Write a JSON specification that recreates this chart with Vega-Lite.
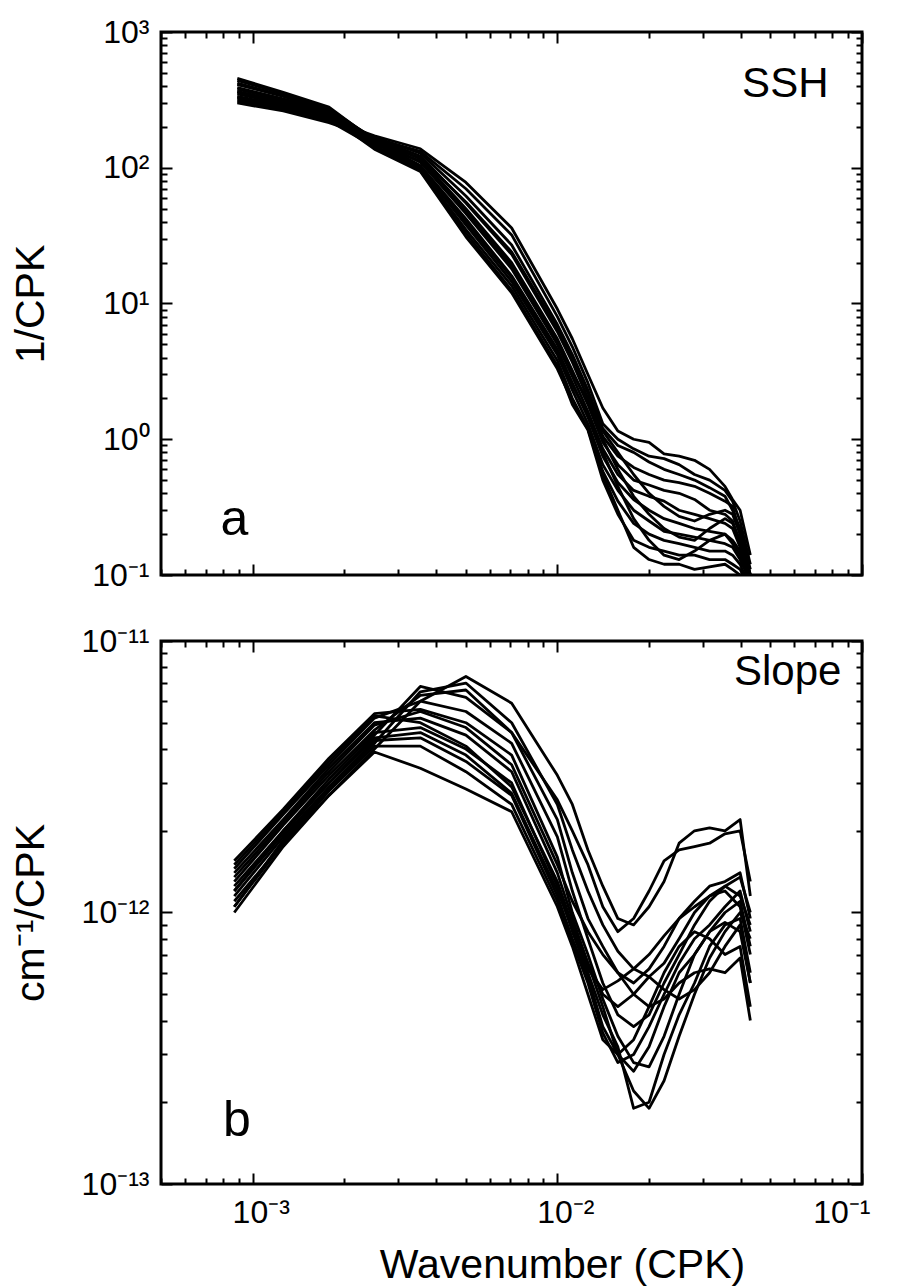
{
  "$schema": "https://vega.github.io/schema/vega-lite/v6.json",
  "padding": {"left": 8, "top": 14, "right": 10, "bottom": 0},
  "spacing": 30,
  "config": {
    "font": "Liberation Sans",
    "view": {"stroke": "black", "strokeWidth": 3},
    "axis": {"domain": false, "grid": false, "tickColor": "black", "tickWidth": 2, "labelColor": "black", "titleColor": "black", "labelFontSize": 32, "titleFontSize": 41, "titleFontWeight": "normal", "labelFont": "Liberation Sans", "titleFont": "Liberation Sans"}
  },
  "datasets": {
    "ssh": [
      {"c":"T1","k":0.00089,"s":320},{"c":"T1","k":0.00126,"s":275},{"c":"T1","k":0.00178,"s":225},{"c":"T1","k":0.00251,"s":172},{"c":"T1","k":0.00355,"s":138},{"c":"T1","k":0.00501,"s":78},{"c":"T1","k":0.00708,"s":36},{"c":"T1","k":0.01,"s":9.1},{"c":"T1","k":0.0112,"s":5.5},{"c":"T1","k":0.0126,"s":3.0},{"c":"T1","k":0.0141,"s":1.7},{"c":"T1","k":0.0158,"s":1.15},{"c":"T1","k":0.0178,"s":1.0},{"c":"T1","k":0.02,"s":0.95},{"c":"T1","k":0.0224,"s":0.78},{"c":"T1","k":0.0251,"s":0.75},{"c":"T1","k":0.0282,"s":0.7},{"c":"T1","k":0.0316,"s":0.6},{"c":"T1","k":0.0355,"s":0.45},{"c":"T1","k":0.0376,"s":0.36},{"c":"T1","k":0.0398,"s":0.3},{"c":"T1","k":0.043,"s":0.14},
      {"c":"T2","k":0.00089,"s":300},{"c":"T2","k":0.00126,"s":262},{"c":"T2","k":0.00178,"s":215},{"c":"T2","k":0.00251,"s":165},{"c":"T2","k":0.00355,"s":132},{"c":"T2","k":0.00501,"s":70},{"c":"T2","k":0.00708,"s":32},{"c":"T2","k":0.01,"s":8.0},{"c":"T2","k":0.0112,"s":4.8},{"c":"T2","k":0.0126,"s":2.6},{"c":"T2","k":0.0141,"s":1.3},{"c":"T2","k":0.0158,"s":1.0},{"c":"T2","k":0.0178,"s":0.85},{"c":"T2","k":0.02,"s":0.75},{"c":"T2","k":0.0224,"s":0.72},{"c":"T2","k":0.0251,"s":0.65},{"c":"T2","k":0.0282,"s":0.55},{"c":"T2","k":0.0316,"s":0.5},{"c":"T2","k":0.0355,"s":0.42},{"c":"T2","k":0.0376,"s":0.35},{"c":"T2","k":0.0398,"s":0.25},{"c":"T2","k":0.043,"s":0.12},
      {"c":"T3","k":0.00089,"s":350},{"c":"T3","k":0.00126,"s":295},{"c":"T3","k":0.00178,"s":235},{"c":"T3","k":0.00251,"s":168},{"c":"T3","k":0.00355,"s":128},{"c":"T3","k":0.00501,"s":62},{"c":"T3","k":0.00708,"s":27},{"c":"T3","k":0.01,"s":7.0},{"c":"T3","k":0.0112,"s":4.2},{"c":"T3","k":0.0126,"s":2.3},{"c":"T3","k":0.0141,"s":1.2},{"c":"T3","k":0.0158,"s":0.9},{"c":"T3","k":0.0178,"s":0.8},{"c":"T3","k":0.02,"s":0.68},{"c":"T3","k":0.0224,"s":0.6},{"c":"T3","k":0.0251,"s":0.55},{"c":"T3","k":0.0282,"s":0.5},{"c":"T3","k":0.0316,"s":0.44},{"c":"T3","k":0.0355,"s":0.38},{"c":"T3","k":0.0376,"s":0.3},{"c":"T3","k":0.0398,"s":0.22},{"c":"T3","k":0.043,"s":0.11},
      {"c":"T4","k":0.00089,"s":380},{"c":"T4","k":0.00126,"s":315},{"c":"T4","k":0.00178,"s":248},{"c":"T4","k":0.00251,"s":165},{"c":"T4","k":0.00355,"s":122},{"c":"T4","k":0.00501,"s":55},{"c":"T4","k":0.00708,"s":23},{"c":"T4","k":0.01,"s":6.2},{"c":"T4","k":0.0112,"s":3.7},{"c":"T4","k":0.0126,"s":2.0},{"c":"T4","k":0.0141,"s":1.05},{"c":"T4","k":0.0158,"s":0.75},{"c":"T4","k":0.0178,"s":0.62},{"c":"T4","k":0.02,"s":0.55},{"c":"T4","k":0.0224,"s":0.5},{"c":"T4","k":0.0251,"s":0.48},{"c":"T4","k":0.0282,"s":0.45},{"c":"T4","k":0.0316,"s":0.4},{"c":"T4","k":0.0355,"s":0.35},{"c":"T4","k":0.0376,"s":0.32},{"c":"T4","k":0.0398,"s":0.2},{"c":"T4","k":0.043,"s":0.1},
      {"c":"T5","k":0.00089,"s":410},{"c":"T5","k":0.00126,"s":335},{"c":"T5","k":0.00178,"s":260},{"c":"T5","k":0.00251,"s":165},{"c":"T5","k":0.00355,"s":116},{"c":"T5","k":0.00501,"s":50},{"c":"T5","k":0.00708,"s":20},{"c":"T5","k":0.01,"s":5.5},{"c":"T5","k":0.0112,"s":3.2},{"c":"T5","k":0.0126,"s":1.8},{"c":"T5","k":0.0141,"s":0.95},{"c":"T5","k":0.0158,"s":0.65},{"c":"T5","k":0.0178,"s":0.5},{"c":"T5","k":0.02,"s":0.46},{"c":"T5","k":0.0224,"s":0.42},{"c":"T5","k":0.0251,"s":0.4},{"c":"T5","k":0.0282,"s":0.36},{"c":"T5","k":0.0316,"s":0.3},{"c":"T5","k":0.0355,"s":0.28},{"c":"T5","k":0.0376,"s":0.25},{"c":"T5","k":0.0398,"s":0.17},{"c":"T5","k":0.043,"s":0.09},
      {"c":"T6","k":0.00089,"s":440},{"c":"T6","k":0.00126,"s":352},{"c":"T6","k":0.00178,"s":272},{"c":"T6","k":0.00251,"s":162},{"c":"T6","k":0.00355,"s":110},{"c":"T6","k":0.00501,"s":46},{"c":"T6","k":0.00708,"s":18},{"c":"T6","k":0.01,"s":5.0},{"c":"T6","k":0.0112,"s":2.9},{"c":"T6","k":0.0126,"s":1.6},{"c":"T6","k":0.0141,"s":0.85},{"c":"T6","k":0.0158,"s":0.55},{"c":"T6","k":0.0178,"s":0.42},{"c":"T6","k":0.02,"s":0.38},{"c":"T6","k":0.0224,"s":0.35},{"c":"T6","k":0.0251,"s":0.3},{"c":"T6","k":0.0282,"s":0.28},{"c":"T6","k":0.0316,"s":0.26},{"c":"T6","k":0.0355,"s":0.24},{"c":"T6","k":0.0376,"s":0.22},{"c":"T6","k":0.0398,"s":0.16},{"c":"T6","k":0.043,"s":0.09},
      {"c":"T7","k":0.00089,"s":455},{"c":"T7","k":0.00126,"s":360},{"c":"T7","k":0.00178,"s":280},{"c":"T7","k":0.00251,"s":158},{"c":"T7","k":0.00355,"s":104},{"c":"T7","k":0.00501,"s":42},{"c":"T7","k":0.00708,"s":16},{"c":"T7","k":0.01,"s":4.6},{"c":"T7","k":0.0112,"s":2.6},{"c":"T7","k":0.0126,"s":1.45},{"c":"T7","k":0.0141,"s":0.75},{"c":"T7","k":0.0158,"s":0.48},{"c":"T7","k":0.0178,"s":0.36},{"c":"T7","k":0.02,"s":0.3},{"c":"T7","k":0.0224,"s":0.26},{"c":"T7","k":0.0251,"s":0.24},{"c":"T7","k":0.0282,"s":0.22},{"c":"T7","k":0.0316,"s":0.21},{"c":"T7","k":0.0355,"s":0.2},{"c":"T7","k":0.0376,"s":0.18},{"c":"T7","k":0.0398,"s":0.15},{"c":"T7","k":0.043,"s":0.08},
      {"c":"T8","k":0.00089,"s":420},{"c":"T8","k":0.00126,"s":340},{"c":"T8","k":0.00178,"s":268},{"c":"T8","k":0.00251,"s":152},{"c":"T8","k":0.00355,"s":100},{"c":"T8","k":0.00501,"s":38},{"c":"T8","k":0.00708,"s":14.5},{"c":"T8","k":0.01,"s":4.2},{"c":"T8","k":0.0112,"s":2.3},{"c":"T8","k":0.0126,"s":1.3},{"c":"T8","k":0.0141,"s":0.65},{"c":"T8","k":0.0158,"s":0.42},{"c":"T8","k":0.0178,"s":0.3},{"c":"T8","k":0.02,"s":0.25},{"c":"T8","k":0.0224,"s":0.21},{"c":"T8","k":0.0251,"s":0.2},{"c":"T8","k":0.0282,"s":0.19},{"c":"T8","k":0.0316,"s":0.18},{"c":"T8","k":0.0355,"s":0.17},{"c":"T8","k":0.0376,"s":0.16},{"c":"T8","k":0.0398,"s":0.13},{"c":"T8","k":0.043,"s":0.09},
      {"c":"T9","k":0.00089,"s":390},{"c":"T9","k":0.00126,"s":322},{"c":"T9","k":0.00178,"s":258},{"c":"T9","k":0.00251,"s":146},{"c":"T9","k":0.00355,"s":97},{"c":"T9","k":0.00501,"s":35},{"c":"T9","k":0.00708,"s":13.5},{"c":"T9","k":0.01,"s":3.8},{"c":"T9","k":0.0112,"s":2.0},{"c":"T9","k":0.0126,"s":1.2},{"c":"T9","k":0.0141,"s":0.58},{"c":"T9","k":0.0158,"s":0.35},{"c":"T9","k":0.0178,"s":0.24},{"c":"T9","k":0.02,"s":0.2},{"c":"T9","k":0.0224,"s":0.18},{"c":"T9","k":0.0251,"s":0.17},{"c":"T9","k":0.0282,"s":0.16},{"c":"T9","k":0.0316,"s":0.15},{"c":"T9","k":0.0355,"s":0.15},{"c":"T9","k":0.0376,"s":0.14},{"c":"T9","k":0.0398,"s":0.12},{"c":"T9","k":0.043,"s":0.08},
      {"c":"T10","k":0.00089,"s":360},{"c":"T10","k":0.00126,"s":305},{"c":"T10","k":0.00178,"s":248},{"c":"T10","k":0.00251,"s":140},{"c":"T10","k":0.00355,"s":95},{"c":"T10","k":0.00501,"s":33},{"c":"T10","k":0.00708,"s":12.5},{"c":"T10","k":0.01,"s":3.5},{"c":"T10","k":0.0112,"s":1.8},{"c":"T10","k":0.0126,"s":1.17},{"c":"T10","k":0.0141,"s":0.5},{"c":"T10","k":0.0158,"s":0.28},{"c":"T10","k":0.0178,"s":0.18},{"c":"T10","k":0.02,"s":0.16},{"c":"T10","k":0.0224,"s":0.15},{"c":"T10","k":0.0251,"s":0.14},{"c":"T10","k":0.0282,"s":0.14},{"c":"T10","k":0.0316,"s":0.13},{"c":"T10","k":0.0355,"s":0.13},{"c":"T10","k":0.0376,"s":0.12},{"c":"T10","k":0.0398,"s":0.11},{"c":"T10","k":0.043,"s":0.08},
      {"c":"T11","k":0.00089,"s":335},{"c":"T11","k":0.00126,"s":288},{"c":"T11","k":0.00178,"s":238},{"c":"T11","k":0.00251,"s":137},{"c":"T11","k":0.00355,"s":94},{"c":"T11","k":0.00501,"s":31},{"c":"T11","k":0.00708,"s":12},{"c":"T11","k":0.01,"s":3.3},{"c":"T11","k":0.0112,"s":1.9},{"c":"T11","k":0.0126,"s":1.19},{"c":"T11","k":0.0141,"s":0.55},{"c":"T11","k":0.0158,"s":0.3},{"c":"T11","k":0.0178,"s":0.16},{"c":"T11","k":0.02,"s":0.13},{"c":"T11","k":0.0224,"s":0.12},{"c":"T11","k":0.0251,"s":0.12},{"c":"T11","k":0.0282,"s":0.11},{"c":"T11","k":0.0316,"s":0.115},{"c":"T11","k":0.0355,"s":0.12},{"c":"T11","k":0.0376,"s":0.11},{"c":"T11","k":0.0398,"s":0.1},{"c":"T11","k":0.043,"s":0.08},
      {"c":"T12","k":0.00089,"s":310},{"c":"T12","k":0.00126,"s":268},{"c":"T12","k":0.00178,"s":222},{"c":"T12","k":0.00251,"s":143},{"c":"T12","k":0.00355,"s":102},{"c":"T12","k":0.00501,"s":40},{"c":"T12","k":0.00708,"s":15.5},{"c":"T12","k":0.01,"s":4.4},{"c":"T12","k":0.0112,"s":2.5},{"c":"T12","k":0.0126,"s":1.5},{"c":"T12","k":0.0141,"s":0.8},{"c":"T12","k":0.0158,"s":0.45},{"c":"T12","k":0.0178,"s":0.26},{"c":"T12","k":0.02,"s":0.18},{"c":"T12","k":0.0224,"s":0.14},{"c":"T12","k":0.0251,"s":0.13},{"c":"T12","k":0.0282,"s":0.15},{"c":"T12","k":0.0316,"s":0.18},{"c":"T12","k":0.0355,"s":0.2},{"c":"T12","k":0.0376,"s":0.17},{"c":"T12","k":0.0398,"s":0.14},{"c":"T12","k":0.043,"s":0.09},
      {"c":"T13","k":0.00089,"s":330},{"c":"T13","k":0.00126,"s":280},{"c":"T13","k":0.00178,"s":228},{"c":"T13","k":0.00251,"s":150},{"c":"T13","k":0.00355,"s":112},{"c":"T13","k":0.00501,"s":48},{"c":"T13","k":0.00708,"s":19},{"c":"T13","k":0.01,"s":5.2},{"c":"T13","k":0.0112,"s":3.1},{"c":"T13","k":0.0126,"s":1.9},{"c":"T13","k":0.0141,"s":1.0},{"c":"T13","k":0.0158,"s":0.6},{"c":"T13","k":0.0178,"s":0.38},{"c":"T13","k":0.02,"s":0.28},{"c":"T13","k":0.0224,"s":0.22},{"c":"T13","k":0.0251,"s":0.19},{"c":"T13","k":0.0282,"s":0.18},{"c":"T13","k":0.0316,"s":0.22},{"c":"T13","k":0.0355,"s":0.26},{"c":"T13","k":0.0376,"s":0.24},{"c":"T13","k":0.0398,"s":0.18},{"c":"T13","k":0.043,"s":0.1},
      {"c":"T14","k":0.00089,"s":365},{"c":"T14","k":0.00126,"s":305},{"c":"T14","k":0.00178,"s":242},{"c":"T14","k":0.00251,"s":155},{"c":"T14","k":0.00355,"s":118},{"c":"T14","k":0.00501,"s":56},{"c":"T14","k":0.00708,"s":24},{"c":"T14","k":0.01,"s":6.6},{"c":"T14","k":0.0112,"s":4.0},{"c":"T14","k":0.0126,"s":2.2},{"c":"T14","k":0.0141,"s":1.15},{"c":"T14","k":0.0158,"s":0.8},{"c":"T14","k":0.0178,"s":0.55},{"c":"T14","k":0.02,"s":0.4},{"c":"T14","k":0.0224,"s":0.32},{"c":"T14","k":0.0251,"s":0.27},{"c":"T14","k":0.0282,"s":0.25},{"c":"T14","k":0.0316,"s":0.28},{"c":"T14","k":0.0355,"s":0.3},{"c":"T14","k":0.0376,"s":0.28},{"c":"T14","k":0.0398,"s":0.2},{"c":"T14","k":0.043,"s":0.1}
    ],
    "slope": [
      {"c":"B1","k":0.00087,"s":1.05e-12},{"c":"B1","k":0.00126,"s":1.8e-12},{"c":"B1","k":0.00178,"s":2.7e-12},{"c":"B1","k":0.00251,"s":4.0e-12},{"c":"B1","k":0.00355,"s":6.0e-12},{"c":"B1","k":0.00501,"s":7.4e-12},{"c":"B1","k":0.00708,"s":5.9e-12},{"c":"B1","k":0.01,"s":3.2e-12},{"c":"B1","k":0.0112,"s":2.5e-12},{"c":"B1","k":0.0126,"s":1.7e-12},{"c":"B1","k":0.0141,"s":1.25e-12},{"c":"B1","k":0.0158,"s":0.95e-12},{"c":"B1","k":0.0178,"s":0.9e-12},{"c":"B1","k":0.02,"s":1.05e-12},{"c":"B1","k":0.0224,"s":1.3e-12},{"c":"B1","k":0.0251,"s":1.8e-12},{"c":"B1","k":0.0282,"s":2.0e-12},{"c":"B1","k":0.0316,"s":2.05e-12},{"c":"B1","k":0.0355,"s":2.0e-12},{"c":"B1","k":0.0398,"s":2.2e-12},{"c":"B1","k":0.043,"s":1.15e-12},
      {"c":"B2","k":0.00087,"s":1.2e-12},{"c":"B2","k":0.00126,"s":2.0e-12},{"c":"B2","k":0.00178,"s":3.0e-12},{"c":"B2","k":0.00251,"s":4.5e-12},{"c":"B2","k":0.00355,"s":6.8e-12},{"c":"B2","k":0.00501,"s":6.2e-12},{"c":"B2","k":0.00708,"s":4.6e-12},{"c":"B2","k":0.01,"s":2.6e-12},{"c":"B2","k":0.0112,"s":2.0e-12},{"c":"B2","k":0.0126,"s":1.5e-12},{"c":"B2","k":0.0141,"s":1.05e-12},{"c":"B2","k":0.0158,"s":0.85e-12},{"c":"B2","k":0.0178,"s":0.95e-12},{"c":"B2","k":0.02,"s":1.2e-12},{"c":"B2","k":0.0224,"s":1.55e-12},{"c":"B2","k":0.0251,"s":1.7e-12},{"c":"B2","k":0.0282,"s":1.75e-12},{"c":"B2","k":0.0316,"s":1.8e-12},{"c":"B2","k":0.0355,"s":1.95e-12},{"c":"B2","k":0.0398,"s":2.0e-12},{"c":"B2","k":0.043,"s":1.3e-12},
      {"c":"B3","k":0.00087,"s":1.3e-12},{"c":"B3","k":0.00126,"s":2.1e-12},{"c":"B3","k":0.00178,"s":3.2e-12},{"c":"B3","k":0.00251,"s":4.7e-12},{"c":"B3","k":0.00355,"s":6.3e-12},{"c":"B3","k":0.00501,"s":6.6e-12},{"c":"B3","k":0.00708,"s":4.6e-12},{"c":"B3","k":0.01,"s":2.2e-12},{"c":"B3","k":0.0112,"s":1.4e-12},{"c":"B3","k":0.0126,"s":0.95e-12},{"c":"B3","k":0.0141,"s":0.75e-12},{"c":"B3","k":0.0158,"s":0.6e-12},{"c":"B3","k":0.0178,"s":0.55e-12},{"c":"B3","k":0.02,"s":0.62e-12},{"c":"B3","k":0.0224,"s":0.75e-12},{"c":"B3","k":0.0251,"s":0.95e-12},{"c":"B3","k":0.0282,"s":1.1e-12},{"c":"B3","k":0.0316,"s":1.25e-12},{"c":"B3","k":0.0355,"s":1.3e-12},{"c":"B3","k":0.0398,"s":1.4e-12},{"c":"B3","k":0.043,"s":0.95e-12},
      {"c":"B4","k":0.00087,"s":1.45e-12},{"c":"B4","k":0.00126,"s":2.3e-12},{"c":"B4","k":0.00178,"s":3.5e-12},{"c":"B4","k":0.00251,"s":5.2e-12},{"c":"B4","k":0.00355,"s":6.0e-12},{"c":"B4","k":0.00501,"s":5.5e-12},{"c":"B4","k":0.00708,"s":4.2e-12},{"c":"B4","k":0.01,"s":1.9e-12},{"c":"B4","k":0.0112,"s":1.2e-12},{"c":"B4","k":0.0126,"s":0.8e-12},{"c":"B4","k":0.0141,"s":0.55e-12},{"c":"B4","k":0.0158,"s":0.42e-12},{"c":"B4","k":0.0178,"s":0.38e-12},{"c":"B4","k":0.02,"s":0.42e-12},{"c":"B4","k":0.0224,"s":0.55e-12},{"c":"B4","k":0.0251,"s":0.7e-12},{"c":"B4","k":0.0282,"s":0.9e-12},{"c":"B4","k":0.0316,"s":1.1e-12},{"c":"B4","k":0.0355,"s":1.25e-12},{"c":"B4","k":0.0398,"s":1.15e-12},{"c":"B4","k":0.043,"s":0.9e-12},
      {"c":"B5","k":0.00087,"s":1.55e-12},{"c":"B5","k":0.00126,"s":2.4e-12},{"c":"B5","k":0.00178,"s":3.7e-12},{"c":"B5","k":0.00251,"s":5.4e-12},{"c":"B5","k":0.00355,"s":5.6e-12},{"c":"B5","k":0.00501,"s":5.0e-12},{"c":"B5","k":0.00708,"s":3.8e-12},{"c":"B5","k":0.01,"s":1.6e-12},{"c":"B5","k":0.0112,"s":1.0e-12},{"c":"B5","k":0.0126,"s":0.7e-12},{"c":"B5","k":0.0141,"s":0.48e-12},{"c":"B5","k":0.0158,"s":0.35e-12},{"c":"B5","k":0.0178,"s":0.28e-12},{"c":"B5","k":0.02,"s":0.27e-12},{"c":"B5","k":0.0224,"s":0.35e-12},{"c":"B5","k":0.0251,"s":0.5e-12},{"c":"B5","k":0.0282,"s":0.7e-12},{"c":"B5","k":0.0316,"s":0.85e-12},{"c":"B5","k":0.0355,"s":1.0e-12},{"c":"B5","k":0.0398,"s":1.1e-12},{"c":"B5","k":0.043,"s":0.75e-12},
      {"c":"B6","k":0.00087,"s":1.4e-12},{"c":"B6","k":0.00126,"s":2.2e-12},{"c":"B6","k":0.00178,"s":3.4e-12},{"c":"B6","k":0.00251,"s":5.0e-12},{"c":"B6","k":0.00355,"s":5.2e-12},{"c":"B6","k":0.00501,"s":4.5e-12},{"c":"B6","k":0.00708,"s":3.3e-12},{"c":"B6","k":0.01,"s":1.4e-12},{"c":"B6","k":0.0112,"s":0.95e-12},{"c":"B6","k":0.0126,"s":0.65e-12},{"c":"B6","k":0.0141,"s":0.45e-12},{"c":"B6","k":0.0158,"s":0.3e-12},{"c":"B6","k":0.0178,"s":0.22e-12},{"c":"B6","k":0.02,"s":0.19e-12},{"c":"B6","k":0.0224,"s":0.24e-12},{"c":"B6","k":0.0251,"s":0.35e-12},{"c":"B6","k":0.0282,"s":0.5e-12},{"c":"B6","k":0.0316,"s":0.68e-12},{"c":"B6","k":0.0355,"s":0.85e-12},{"c":"B6","k":0.0398,"s":1.0e-12},{"c":"B6","k":0.043,"s":0.8e-12},
      {"c":"B7","k":0.00087,"s":1.25e-12},{"c":"B7","k":0.00126,"s":2.0e-12},{"c":"B7","k":0.00178,"s":3.1e-12},{"c":"B7","k":0.00251,"s":4.6e-12},{"c":"B7","k":0.00355,"s":4.8e-12},{"c":"B7","k":0.00501,"s":4.0e-12},{"c":"B7","k":0.00708,"s":3.0e-12},{"c":"B7","k":0.01,"s":1.25e-12},{"c":"B7","k":0.0112,"s":0.85e-12},{"c":"B7","k":0.0126,"s":0.6e-12},{"c":"B7","k":0.0141,"s":0.42e-12},{"c":"B7","k":0.0158,"s":0.32e-12},{"c":"B7","k":0.0178,"s":0.19e-12},{"c":"B7","k":0.02,"s":0.2e-12},{"c":"B7","k":0.0224,"s":0.3e-12},{"c":"B7","k":0.0251,"s":0.42e-12},{"c":"B7","k":0.0282,"s":0.55e-12},{"c":"B7","k":0.0316,"s":0.75e-12},{"c":"B7","k":0.0355,"s":0.9e-12},{"c":"B7","k":0.0398,"s":0.95e-12},{"c":"B7","k":0.043,"s":0.6e-12},
      {"c":"B8","k":0.00087,"s":1.15e-12},{"c":"B8","k":0.00126,"s":1.9e-12},{"c":"B8","k":0.00178,"s":2.9e-12},{"c":"B8","k":0.00251,"s":4.3e-12},{"c":"B8","k":0.00355,"s":4.4e-12},{"c":"B8","k":0.00501,"s":3.6e-12},{"c":"B8","k":0.00708,"s":2.7e-12},{"c":"B8","k":0.01,"s":1.15e-12},{"c":"B8","k":0.0112,"s":0.8e-12},{"c":"B8","k":0.0126,"s":0.58e-12},{"c":"B8","k":0.0141,"s":0.38e-12},{"c":"B8","k":0.0158,"s":0.3e-12},{"c":"B8","k":0.0178,"s":0.26e-12},{"c":"B8","k":0.02,"s":0.32e-12},{"c":"B8","k":0.0224,"s":0.45e-12},{"c":"B8","k":0.0251,"s":0.6e-12},{"c":"B8","k":0.0282,"s":0.7e-12},{"c":"B8","k":0.0316,"s":0.85e-12},{"c":"B8","k":0.0355,"s":0.92e-12},{"c":"B8","k":0.0398,"s":0.85e-12},{"c":"B8","k":0.043,"s":0.55e-12},
      {"c":"B9","k":0.00087,"s":1.1e-12},{"c":"B9","k":0.00126,"s":1.8e-12},{"c":"B9","k":0.00178,"s":2.8e-12},{"c":"B9","k":0.00251,"s":4.1e-12},{"c":"B9","k":0.00355,"s":4.1e-12},{"c":"B9","k":0.00501,"s":3.3e-12},{"c":"B9","k":0.00708,"s":2.5e-12},{"c":"B9","k":0.01,"s":1.1e-12},{"c":"B9","k":0.0112,"s":0.78e-12},{"c":"B9","k":0.0126,"s":0.55e-12},{"c":"B9","k":0.0141,"s":0.36e-12},{"c":"B9","k":0.0158,"s":0.28e-12},{"c":"B9","k":0.0178,"s":0.3e-12},{"c":"B9","k":0.02,"s":0.38e-12},{"c":"B9","k":0.0224,"s":0.5e-12},{"c":"B9","k":0.0251,"s":0.65e-12},{"c":"B9","k":0.0282,"s":0.8e-12},{"c":"B9","k":0.0316,"s":0.9e-12},{"c":"B9","k":0.0355,"s":1.05e-12},{"c":"B9","k":0.0398,"s":1.2e-12},{"c":"B9","k":0.043,"s":0.85e-12},
      {"c":"B10","k":0.00087,"s":1.0e-12},{"c":"B10","k":0.00126,"s":1.75e-12},{"c":"B10","k":0.00178,"s":2.7e-12},{"c":"B10","k":0.00251,"s":3.9e-12},{"c":"B10","k":0.00355,"s":3.4e-12},{"c":"B10","k":0.00501,"s":2.85e-12},{"c":"B10","k":0.00708,"s":2.35e-12},{"c":"B10","k":0.01,"s":1.05e-12},{"c":"B10","k":0.0112,"s":0.75e-12},{"c":"B10","k":0.0126,"s":0.5e-12},{"c":"B10","k":0.0141,"s":0.34e-12},{"c":"B10","k":0.0158,"s":0.3e-12},{"c":"B10","k":0.0178,"s":0.34e-12},{"c":"B10","k":0.02,"s":0.45e-12},{"c":"B10","k":0.0224,"s":0.6e-12},{"c":"B10","k":0.0251,"s":0.75e-12},{"c":"B10","k":0.0282,"s":0.85e-12},{"c":"B10","k":0.0316,"s":0.8e-12},{"c":"B10","k":0.0355,"s":0.7e-12},{"c":"B10","k":0.0398,"s":0.75e-12},{"c":"B10","k":0.043,"s":0.45e-12},
      {"c":"B11","k":0.00087,"s":1.5e-12},{"c":"B11","k":0.00126,"s":2.35e-12},{"c":"B11","k":0.00178,"s":3.6e-12},{"c":"B11","k":0.00251,"s":5.3e-12},{"c":"B11","k":0.00355,"s":5.0e-12},{"c":"B11","k":0.00501,"s":4.1e-12},{"c":"B11","k":0.00708,"s":2.9e-12},{"c":"B11","k":0.01,"s":1.3e-12},{"c":"B11","k":0.0112,"s":0.9e-12},{"c":"B11","k":0.0126,"s":0.65e-12},{"c":"B11","k":0.0141,"s":0.5e-12},{"c":"B11","k":0.0158,"s":0.45e-12},{"c":"B11","k":0.0178,"s":0.5e-12},{"c":"B11","k":0.02,"s":0.58e-12},{"c":"B11","k":0.0224,"s":0.65e-12},{"c":"B11","k":0.0251,"s":0.8e-12},{"c":"B11","k":0.0282,"s":1.0e-12},{"c":"B11","k":0.0316,"s":1.15e-12},{"c":"B11","k":0.0355,"s":1.2e-12},{"c":"B11","k":0.0398,"s":1.05e-12},{"c":"B11","k":0.043,"s":0.7e-12},
      {"c":"B12","k":0.00087,"s":1.35e-12},{"c":"B12","k":0.00126,"s":2.15e-12},{"c":"B12","k":0.00178,"s":3.3e-12},{"c":"B12","k":0.00251,"s":4.9e-12},{"c":"B12","k":0.00355,"s":5.5e-12},{"c":"B12","k":0.00501,"s":4.8e-12},{"c":"B12","k":0.00708,"s":3.5e-12},{"c":"B12","k":0.01,"s":1.5e-12},{"c":"B12","k":0.0112,"s":1.1e-12},{"c":"B12","k":0.0126,"s":0.85e-12},{"c":"B12","k":0.0141,"s":0.7e-12},{"c":"B12","k":0.0158,"s":0.6e-12},{"c":"B12","k":0.0178,"s":0.5e-12},{"c":"B12","k":0.02,"s":0.45e-12},{"c":"B12","k":0.0224,"s":0.48e-12},{"c":"B12","k":0.0251,"s":0.55e-12},{"c":"B12","k":0.0282,"s":0.6e-12},{"c":"B12","k":0.0316,"s":0.62e-12},{"c":"B12","k":0.0355,"s":0.6e-12},{"c":"B12","k":0.0398,"s":0.68e-12},{"c":"B12","k":0.043,"s":0.4e-12},
      {"c":"B13","k":0.00087,"s":1.2e-12},{"c":"B13","k":0.00126,"s":1.95e-12},{"c":"B13","k":0.00178,"s":3.0e-12},{"c":"B13","k":0.00251,"s":4.4e-12},{"c":"B13","k":0.00355,"s":4.6e-12},{"c":"B13","k":0.00501,"s":3.8e-12},{"c":"B13","k":0.00708,"s":2.75e-12},{"c":"B13","k":0.01,"s":1.2e-12},{"c":"B13","k":0.0112,"s":0.88e-12},{"c":"B13","k":0.0126,"s":0.62e-12},{"c":"B13","k":0.0141,"s":0.52e-12},{"c":"B13","k":0.0158,"s":0.56e-12},{"c":"B13","k":0.0178,"s":0.62e-12},{"c":"B13","k":0.02,"s":0.7e-12},{"c":"B13","k":0.0224,"s":0.82e-12},{"c":"B13","k":0.0251,"s":0.95e-12},{"c":"B13","k":0.0282,"s":1.05e-12},{"c":"B13","k":0.0316,"s":1.15e-12},{"c":"B13","k":0.0355,"s":1.25e-12},{"c":"B13","k":0.0398,"s":1.35e-12},{"c":"B13","k":0.043,"s":1.0e-12},
      {"c":"B14","k":0.00087,"s":1.05e-12},{"c":"B14","k":0.00126,"s":1.85e-12},{"c":"B14","k":0.00178,"s":2.85e-12},{"c":"B14","k":0.00251,"s":4.2e-12},{"c":"B14","k":0.00355,"s":6.5e-12},{"c":"B14","k":0.00501,"s":7.0e-12},{"c":"B14","k":0.00708,"s":5.0e-12},{"c":"B14","k":0.01,"s":2.5e-12},{"c":"B14","k":0.0112,"s":1.7e-12},{"c":"B14","k":0.0126,"s":1.2e-12},{"c":"B14","k":0.0141,"s":0.9e-12},{"c":"B14","k":0.0158,"s":0.72e-12},{"c":"B14","k":0.0178,"s":0.62e-12},{"c":"B14","k":0.02,"s":0.58e-12},{"c":"B14","k":0.0224,"s":0.52e-12},{"c":"B14","k":0.0251,"s":0.48e-12},{"c":"B14","k":0.0282,"s":0.52e-12},{"c":"B14","k":0.0316,"s":0.6e-12},{"c":"B14","k":0.0355,"s":0.75e-12},{"c":"B14","k":0.0398,"s":0.9e-12},{"c":"B14","k":0.043,"s":0.55e-12}
    ],
    "sshLabels": [
      {"t":"SSH","k":0.056,"s":332},
      {"t":"a","k":0.00087,"s":0.197}
    ],
    "slopeLabels": [
      {"t":"Slope","k":0.057,"s":6.9e-12},
      {"t":"b","k":0.000887,"s":1.5e-13}
    ]
  },
  "vconcat": [
    {
      "width": 701,
      "height": 543,
      "layer": [
        {
          "data": {"name": "ssh"},
          "mark": {"type": "line", "color": "black", "strokeWidth": 2.8, "strokeJoin": "round", "clip": true},
          "encoding": {
            "x": {"field": "k", "type": "quantitative", "scale": {"type": "log", "domain": [0.0005, 0.1], "nice": false},
              "axis": {"orient": "bottom", "labels": false, "title": null,
                "values": [0.0005,0.0006,0.0007,0.0008,0.0009,0.001,0.002,0.003,0.004,0.005,0.006,0.007,0.008,0.009,0.01,0.02,0.03,0.04,0.05,0.06,0.07,0.08,0.09,0.1],
                "tickSize": {"condition": {"test": "abs(log(datum.value)/LN10-round(log(datum.value)/LN10))<0.01", "value": -11}, "value": -6}}},
            "y": {"field": "s", "type": "quantitative", "scale": {"type": "log", "domain": [0.1, 1000], "nice": false},
              "axis": {"orient": "left", "title": "1/CPK", "titleX": -109, "titleBaseline": "bottom", "labelPadding": 23, "labelAlign": "right", "labelBaseline": "middle",
                "values": [0.1,0.2,0.3,0.4,0.5,0.6,0.7,0.8,0.9,1,2,3,4,5,6,7,8,9,10,20,30,40,50,60,70,80,90,100,200,300,400,500,600,700,800,900,1000],
                "labelExpr": "abs(log(datum.value)/LN10-round(log(datum.value)/LN10))<0.01 ? ['10⁻¹','10⁰','10¹','10²','10³'][round(log(datum.value)/LN10)+1] : ''",
                "tickSize": {"condition": {"test": "abs(log(datum.value)/LN10-round(log(datum.value)/LN10))<0.01", "value": -11}, "value": -6}}},
            "detail": {"field": "c"}
          }
        },
        {
          "data": {"name": "sshLabels"},
          "mark": {"type": "text", "color": "black", "align": "center", "baseline": "alphabetic", "font": "Liberation Sans"},
          "encoding": {
            "x": {"field": "k", "type": "quantitative", "scale": {"type": "log", "domain": [0.0005, 0.1], "nice": false},
              "axis": {"orient": "top", "labels": false, "title": null,
                "values": [0.0005,0.0006,0.0007,0.0008,0.0009,0.001,0.002,0.003,0.004,0.005,0.006,0.007,0.008,0.009,0.01,0.02,0.03,0.04,0.05,0.06,0.07,0.08,0.09,0.1],
                "tickSize": {"condition": {"test": "abs(log(datum.value)/LN10-round(log(datum.value)/LN10))<0.01", "value": -11}, "value": -6}}},
            "y": {"field": "s", "type": "quantitative", "scale": {"type": "log", "domain": [0.1, 1000], "nice": false},
              "axis": {"orient": "right", "labels": false, "title": null,
                "values": [0.1,0.2,0.3,0.4,0.5,0.6,0.7,0.8,0.9,1,2,3,4,5,6,7,8,9,10,20,30,40,50,60,70,80,90,100,200,300,400,500,600,700,800,900,1000],
                "tickSize": {"condition": {"test": "abs(log(datum.value)/LN10-round(log(datum.value)/LN10))<0.01", "value": -11}, "value": -6}}},
            "text": {"field": "t"},
            "size": {"condition": {"test": "datum.t === 'a'", "value": 50}, "value": 42}
          }
        }
      ],
      "resolve": {"axis": {"x": "independent", "y": "independent"}}
    },
    {
      "width": 701,
      "height": 543,
      "layer": [
        {
          "data": {"name": "slope"},
          "mark": {"type": "line", "color": "black", "strokeWidth": 2.8, "strokeJoin": "round", "clip": true},
          "encoding": {
            "x": {"field": "k", "type": "quantitative", "scale": {"type": "log", "domain": [0.0005, 0.1], "nice": false},
              "axis": {"orient": "bottom", "title": "Wavenumber (CPK)", "titleX": 401, "titleY": 61, "titleBaseline": "top", "labelPadding": 24, "labelOffset": 8,
                "values": [0.0005,0.0006,0.0007,0.0008,0.0009,0.001,0.002,0.003,0.004,0.005,0.006,0.007,0.008,0.009,0.01,0.02,0.03,0.04,0.05,0.06,0.07,0.08,0.09,0.1],
                "labelExpr": "abs(log(datum.value)/LN10-round(log(datum.value)/LN10))<0.01 ? ['10⁻³','10⁻²','10⁻¹'][round(log(datum.value)/LN10)+3] : ''",
                "tickSize": {"condition": {"test": "abs(log(datum.value)/LN10-round(log(datum.value)/LN10))<0.01", "value": -11}, "value": -6}}},
            "y": {"field": "s", "type": "quantitative", "scale": {"type": "log", "domain": [1e-13, 1e-11], "nice": false},
              "axis": {"orient": "left", "title": "cm⁻¹/CPK", "titleX": -109, "titleBaseline": "bottom", "labelPadding": 23, "labelAlign": "right", "labelBaseline": "middle",
                "values": [1e-13,2e-13,3e-13,4e-13,5e-13,6e-13,7e-13,8e-13,9e-13,1e-12,2e-12,3e-12,4e-12,5e-12,6e-12,7e-12,8e-12,9e-12,1e-11],
                "labelExpr": "abs(log(datum.value)/LN10-round(log(datum.value)/LN10))<0.01 ? ['10⁻¹³','10⁻¹²','10⁻¹¹'][round(log(datum.value)/LN10)+13] : ''",
                "tickSize": {"condition": {"test": "abs(log(datum.value)/LN10-round(log(datum.value)/LN10))<0.01", "value": -11}, "value": -6}}},
            "detail": {"field": "c"}
          }
        },
        {
          "data": {"name": "slopeLabels"},
          "mark": {"type": "text", "color": "black", "align": "center", "baseline": "alphabetic", "font": "Liberation Sans"},
          "encoding": {
            "x": {"field": "k", "type": "quantitative", "scale": {"type": "log", "domain": [0.0005, 0.1], "nice": false},
              "axis": {"orient": "top", "labels": false, "title": null,
                "values": [0.0005,0.0006,0.0007,0.0008,0.0009,0.001,0.002,0.003,0.004,0.005,0.006,0.007,0.008,0.009,0.01,0.02,0.03,0.04,0.05,0.06,0.07,0.08,0.09,0.1],
                "tickSize": {"condition": {"test": "abs(log(datum.value)/LN10-round(log(datum.value)/LN10))<0.01", "value": -11}, "value": -6}}},
            "y": {"field": "s", "type": "quantitative", "scale": {"type": "log", "domain": [1e-13, 1e-11], "nice": false},
              "axis": {"orient": "right", "labels": false, "title": null,
                "values": [1e-13,2e-13,3e-13,4e-13,5e-13,6e-13,7e-13,8e-13,9e-13,1e-12,2e-12,3e-12,4e-12,5e-12,6e-12,7e-12,8e-12,9e-12,1e-11],
                "tickSize": {"condition": {"test": "abs(log(datum.value)/LN10-round(log(datum.value)/LN10))<0.01", "value": -11}, "value": -6}}},
            "text": {"field": "t"},
            "size": {"condition": {"test": "datum.t === 'b'", "value": 50}, "value": 42}
          }
        }
      ],
      "resolve": {"axis": {"x": "independent", "y": "independent"}}
    }
  ]
}
